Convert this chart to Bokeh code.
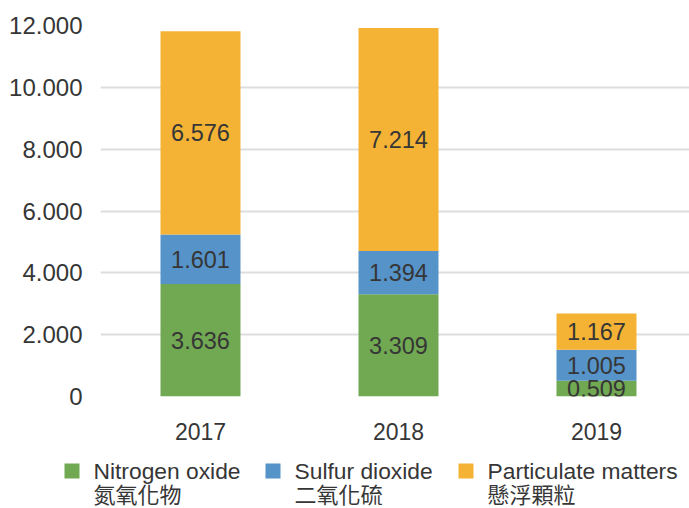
from bokeh.plotting import figure
from bokeh.layouts import column
from bokeh.models import ColumnDataSource, Range1d, FixedTicker
from bokeh.core.properties import value
from bokeh.embed import file_html
from bokeh.resources import INLINE

# ---- data ----
years = ["2017", "2018", "2019"]
nitrogen = [3636, 3309, 509]
sulfur = [1601, 1394, 1005]
particulate = [6576, 7214, 1167]
series_keys = ["nitrogen", "sulfur", "particulate"]
series_en = ["Nitrogen oxide", "Sulfur dioxide", "Particulate matters"]
series_zh = ["氮氧化物", "二氧化硫", "懸浮顆粒"]
colors = ["#71A852", "#5593C8", "#F4B335"]
y_ticks = [0, 2000, 4000, 6000, 8000, 10000, 12000]
y_tick_labels = ["0", "2.000", "4.000", "6.000", "8.000", "10.000", "12.000"]

FONT = "'Liberation Sans', 'Noto Sans CJK TC', sans-serif"
CJK = "'Noto Sans CJK TC', sans-serif"
TXT = "#363636"

W = 689
MAIN_H = 450
LEG_H = 58

xs = list(range(len(years)))
src = ColumnDataSource(dict(x=xs, nitrogen=nitrogen, sulfur=sulfur, particulate=particulate))

p = figure(width=W, height=MAIN_H, output_backend="svg", toolbar_location=None,
           x_range=Range1d(-0.505, 2.4697), y_range=Range1d(0, 12000),
           min_border_left=100, min_border_right=0, min_border_top=25, min_border_bottom=54)
p.outline_line_color = None
p.background_fill_color = "white"

renderers = p.vbar_stack(series_keys, x="x", width=0.404, color=colors, line_color=None, source=src)

# segment labels
lx, ly, lt = [], [], []
bottoms = [0] * len(years)
for vals in (nitrogen, sulfur, particulate):
    for i, v in enumerate(vals):
        lx.append(xs[i])
        ly.append(bottoms[i] + v / 2)
        lt.append(f"{v/1000:.3f}")
        bottoms[i] += v
p.text(x=lx, y=ly, text=lt, text_align="center", text_baseline="middle",
       text_font=value(FONT), text_font_size="23.5px", text_color=TXT)

# axes
p.yaxis.ticker = FixedTicker(ticks=y_ticks)
p.yaxis.major_label_overrides = {t: l for t, l in zip(y_ticks, y_tick_labels)}
p.xaxis.ticker = FixedTicker(ticks=xs)
p.xaxis.major_label_overrides = {i: y for i, y in zip(xs, years)}
for ax in (p.xaxis, p.yaxis):
    ax.axis_line_color = None
    ax.major_tick_line_color = None
    ax.minor_tick_line_color = None
    ax.major_tick_out = 0
    ax.major_tick_in = 0
    ax.major_label_text_font = FONT
    ax.major_label_text_color = TXT
p.yaxis.major_label_text_font_size = "24px"
p.xaxis.major_label_text_font_size = "23px"
p.yaxis.major_label_standoff = 18
p.xaxis.major_label_standoff = 26

p.xgrid.grid_line_color = None
p.ygrid.grid_line_color = "#dddddd"
p.ygrid.grid_line_width = 2

# ---- legend (separate strip below the chart) ----
leg = figure(width=W, height=LEG_H, output_backend="svg", toolbar_location=None,
             x_range=Range1d(0, W), y_range=Range1d(LEG_H, 0),
             x_axis_location=None, y_axis_location=None,
             min_border_left=0, min_border_right=0, min_border_top=0, min_border_bottom=0)
leg.grid.visible = False
leg.outline_line_color = None
for fig in (p, leg):
    if "frame_align" in fig.properties():
        fig.frame_align = False

swatch_x = [64, 265, 458]
sw = 15
sq_top = 13
leg.quad(left=swatch_x, right=[x + sw for x in swatch_x],
         top=[sq_top] * 3, bottom=[sq_top + sw] * 3, color=colors, line_color=None)
text_x = [x + sw + 14 for x in swatch_x]
leg.text(x=text_x, y=[20] * 3, text=series_en, text_align="left", text_baseline="alphabetic",
         text_font=value(FONT), text_font_size="22.8px", text_color=TXT)
leg.text(x=text_x, y=[42] * 3, text=series_zh, text_align="left", text_baseline="alphabetic",
         text_font=value(CJK), text_font_size="22px", text_color=TXT)

layout = column(p, leg, spacing=0)
open("out.html", "w").write(file_html(layout, INLINE))
